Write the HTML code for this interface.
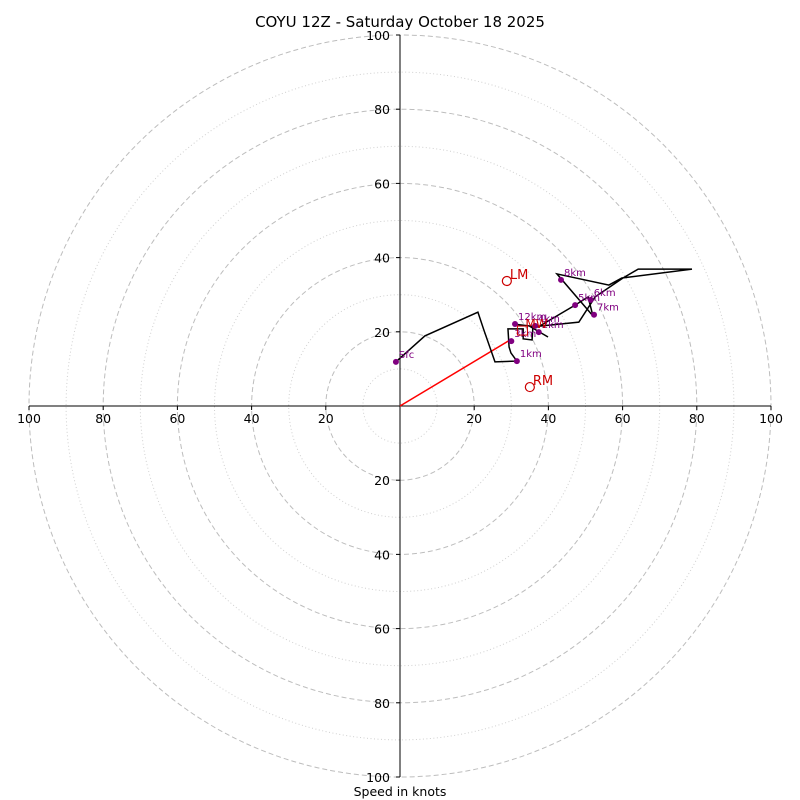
<!DOCTYPE html>
<html><head><meta charset="utf-8"><style>
body{margin:0;background:#fff}
svg{display:block;font-family:"DejaVu Sans","Liberation Sans",sans-serif}
</style></head><body>
<svg id="c" width="800" height="800" viewBox="0 0 800 800">
<text x="400" y="27" text-anchor="middle" font-size="15">COYU 12Z - Saturday October 18 2025</text>
<g id="rings"></g><g id="axes"></g><g id="plot"></g>
<text x="400" y="796" text-anchor="middle" font-size="12.5">Speed in knots</text>
</svg>
<script>
const ringValues=[10,20,30,40,50,60,70,80,90,100];
const tickLabels=[20,40,60,80,100];
const hodoU=[-1.1,6.7,21.0,22.6,25.6,31.5,29.9,29.4,29.1,33.2,33.2,35.6,35.8,39.9,35.3,48.2,52.6,60.1,64.2,78.7,59.8,56.3,42.3,52.0,50.7,47.2,37.2,31.3];
const hodoV=[11.9,18.9,25.3,20.5,11.9,12.1,14.3,15.9,20.8,20.8,18.1,17.8,21.0,18.6,21.3,22.6,29.4,34.5,36.9,36.9,34.5,32.6,35.6,24.3,29.4,27.2,21.3,22.0];
const dotLabels=["Sfc","1km","3km","12km","2km","4km","5km","6km","7km","8km"];
const dotU=[-1.1,31.5,30.0,31.0,37.4,36.4,47.2,51.4,52.3,43.4];
const dotV=[11.9,12.1,17.5,22.1,19.9,21.6,27.2,28.6,24.6,34.0];
const lm=[28.8,33.7], rm=[35.0,5.1], mw=[33.0,20.2], arrowEnd=[30.2,18.1];
const CX=400,CY=406,S=3.71;
const X=u=>CX+u*S, Y=v=>CY-v*S;
const NS="http://www.w3.org/2000/svg";
function mk(t,a,p){const e=document.createElementNS(NS,t);for(const k in a)e.setAttribute(k,a[k]);p.appendChild(e);return e;}
const rings=document.getElementById('rings'),axes=document.getElementById('axes'),plot=document.getElementById('plot');
ringValues.forEach(r=>{const major=r%20===0;
 const c=mk('circle',{cx:CX,cy:CY,r:r*S,fill:'none',stroke:major?'#bdbdbd':'#d0d0d0','stroke-width':1,'stroke-dasharray':major?'5,3':'1,2.5'},rings);
 
 });
mk('line',{x1:X(-100),y1:CY,x2:X(100),y2:CY,stroke:'#000','stroke-width':1},axes);
mk('line',{x1:CX,y1:Y(100),x2:CX,y2:Y(-100),stroke:'#000','stroke-width':1},axes);
tickLabels.forEach(t=>{
 [[X(t),CY],[X(-t),CY]].forEach(p=>{mk('line',{x1:p[0],y1:CY,x2:p[0],y2:CY+4,stroke:'#000'},axes);
  const tx=mk('text',{x:p[0],y:CY+17,'text-anchor':'middle','font-size':12.5},axes);tx.textContent=t;
  
  });
 [Y(t),Y(-t)].forEach(y=>{mk('line',{x1:CX-4,y1:y,x2:CX,y2:y,stroke:'#000'},axes);
  const tx=mk('text',{x:CX-10,y:y+5,'text-anchor':'end','font-size':12.5},axes);tx.textContent=t;
  
  });
});
const ar=mk('line',{x1:X(0),y1:Y(0),x2:X(arrowEnd[0]),y2:Y(arrowEnd[1]),stroke:'#f00','stroke-width':1.5},plot);


const pl=mk('polyline',{points:hodoU.map((u,i)=>X(u)+','+Y(hodoV[i])).join(' '),fill:'none',stroke:'#000','stroke-width':1.5},plot);


dotLabels.forEach((l,i)=>{
 const d=mk('circle',{cx:X(dotU[i]),cy:Y(dotV[i]),r:3,fill:'purple'},plot);
 
 
 const t=mk('text',{x:X(dotU[i])+3,y:Y(dotV[i])-4,'font-size':10,fill:'purple'},plot);t.textContent=l;
 
 
});
const sq=mk('rect',{x:X(mw[0])-5,y:Y(mw[1])-5,width:10,height:9,fill:'none',stroke:'#c00'},plot);


const mwt=mk('text',{x:X(mw[0])+3,y:Y(mw[1])-3,'font-size':12,fill:'#c00'},plot);mwt.textContent='MW';


[['LM',lm],['RM',rm]].forEach(([n,p])=>{
 const c=mk('circle',{cx:X(p[0]),cy:Y(p[1]),r:4.5,fill:'none',stroke:'#c00','stroke-width':1.2},plot);
 
 
 const t=mk('text',{x:X(p[0])+3,y:Y(p[1])-2,'font-size':13,fill:'#c00'},plot);t.textContent=n;
 
 
});
</script>
</body></html>
